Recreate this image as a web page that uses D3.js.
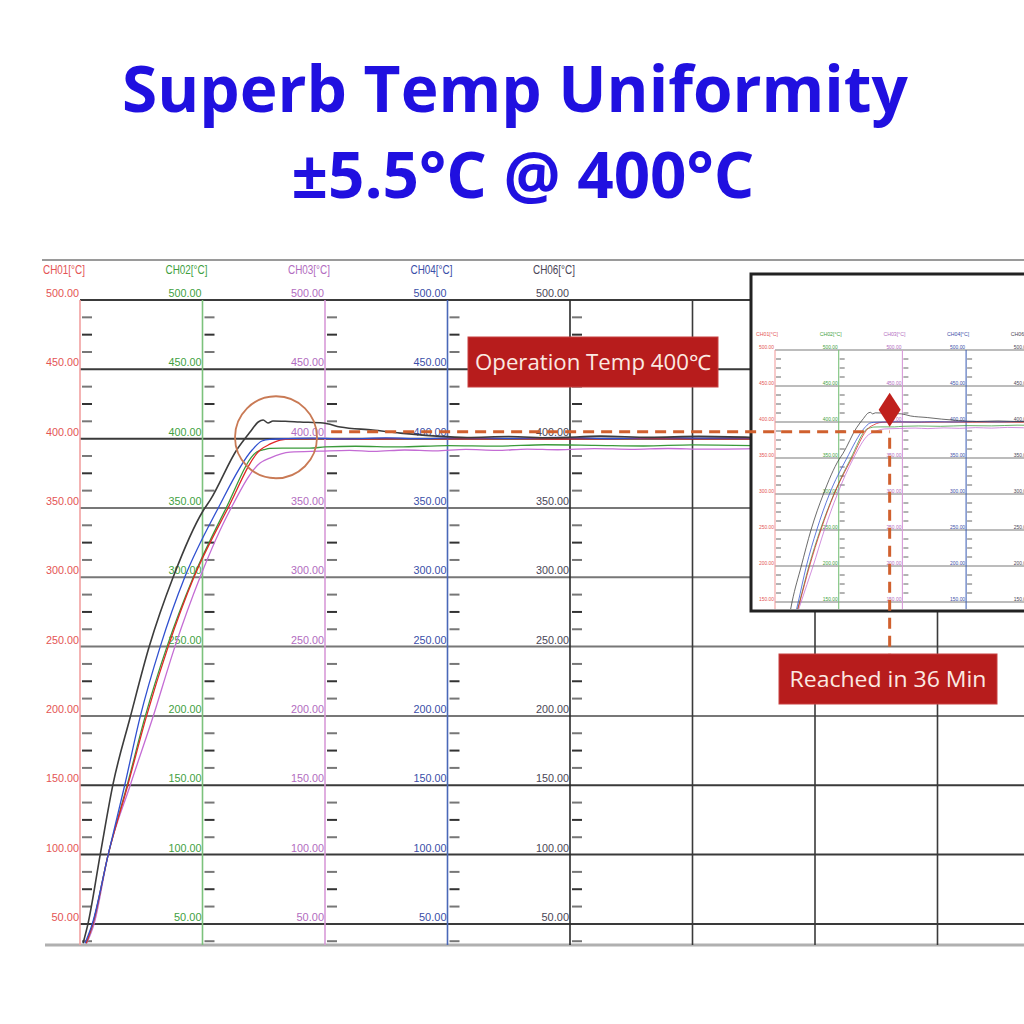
<!DOCTYPE html>
<html><head><meta charset="utf-8">
<script src="https://cdn.jsdelivr.net/npm/d3@7"></script>
<style>body{margin:0;background:#fff}svg{display:block}</style>
</head><body>
<svg id="c" width="1024" height="1024"></svg>
<script>
// ---------- data ----------
const titleLines = ["Superb Temp Uniformity", "±5.5°C @ 400°C"];
const channelNames = ["CH01", "CH02", "CH03", "CH04", "CH06"];
const channelAxisMin = [0, 20, 40, 60, 80];      // time (min) where each channel scale sits
const extraGridMin = [100, 120, 140];
const majorTemps = [50, 100, 150, 200, 250, 300, 350, 400, 450, 500];
const insetTemps = [150, 200, 250, 300, 350, 400, 450, 500];

const ch01Time = [1.0, 2.1, 4.6, 7.8, 10.8, 14.4, 18.6, 24.0, 29.4, 31.0, 32.7, 35, 40, 46, 54, 62, 70, 78, 86, 94, 102, 110];
const ch01Temp = [36, 50, 100, 150, 199, 250, 300, 348.5, 391.8, 396, 399, 399.8, 400, 399.7, 400, 399.8, 400, 399.7, 399.9, 400, 399.8, 399.9];
const ch02Time = [1.0, 2.1, 4.6, 7.7, 10.6, 14.2, 18.5, 23.7, 28.9, 30.0, 31.0, 33, 37.5, 40, 45, 52, 60, 68, 76, 84, 92, 100, 110];
const ch02Temp = [36, 50, 100, 150, 199, 250, 300, 348.5, 390.5, 392, 393, 393.2, 393.2, 394, 394.5, 394, 395, 394.6, 395.6, 395.2, 394.7, 395.5, 395];
const ch03Time = [1.1, 2.3, 4.6, 8.2, 11.9, 15.5, 19.6, 24.5, 29.4, 31.0, 34.3, 39.2, 44, 48, 53, 58, 63, 68, 73, 78, 84, 90, 96, 102, 110];
const ch03Temp = [36, 50, 100, 150, 199, 250, 300, 348.5, 382.4, 386, 390.3, 391, 391.6, 390.8, 391.8, 391.2, 392.2, 391.5, 392.5, 392, 392.8, 392.3, 392.9, 392.4, 392.8];
const ch04Time = [0.8, 2.0, 4.6, 7.3, 9.8, 13.1, 17.1, 22.4, 28.1, 29.7, 31.0, 34, 38, 44, 50, 56, 62, 70, 78, 86, 94, 102, 110];
const ch04Temp = [36, 50, 100, 150, 199, 250, 300, 348.5, 391.8, 398.3, 399.5, 400, 400.3, 399.8, 400.5, 400, 400.8, 400.2, 400.9, 400.1, 400.7, 400.3, 400.6];
const ch06Time = [0.5, 1.3, 3.3, 5.4, 8.2, 11.3, 15.2, 20.1, 21.3, 25.6, 27.8, 29.1, 29.9, 30.7, 31.5, 33.5, 35.9, 39.7, 42.5, 47.8, 52.3, 57.6, 63.2, 70, 77, 85, 93, 101, 110];
const ch06Temp = [36, 50, 100, 151, 199, 250, 300, 348, 356, 392, 405, 412, 413.4, 411.3, 412.7, 412.5, 412, 411.3, 408.4, 406.2, 404, 402, 400.8, 401.5, 400.6, 401.8, 400.9, 401.6, 400.8];

const operationTemp = 405;   // dashed reference line as drawn
const reachedMin = 36;
const circleCenter = [32, 401];
const opLabel = "Operation Temp 400℃";
const reachLabel = "Reached in 36 Min";

// ---------- styles ----------
const axisLineColors = ["#f2a0a0", "#7cc27c", "#d89ad8", "#4a68b8", "#2a2a2a"];
const labelColors = ["#e45454", "#3f9f3f", "#b26cc0", "#3a4ea8", "#4a4656"];
const seriesColors = ["#e02828", "#3a9a3a", "#c46cd4", "#3050d0", "#3c3c3c"];
const series = [
  {t: ch03Time, v: ch03Temp, c: 2},
  {t: ch02Time, v: ch02Temp, c: 1},
  {t: ch01Time, v: ch01Temp, c: 0},
  {t: ch04Time, v: ch04Temp, c: 3},
  {t: ch06Time, v: ch06Temp, c: 4}
];

const svg = d3.select("#c");
const blue = "#2010e0";

// ---------- title ----------
const titleSpec = [{y: 112, w: 786, cx: 515}, {y: 198, w: 463, cx: 523}];
titleLines.forEach((s, i) => {
  const t = svg.append("text").text(s)
    .attr("x", titleSpec[i].cx).attr("y", titleSpec[i].y)
    .attr("text-anchor", "middle")
    .attr("font-family", "Open Sans, Noto Sans, sans-serif")
    .attr("font-weight", 700).attr("font-size", 60).attr("fill", blue);
  const len = t.node().getComputedTextLength();
  t.attr("font-size", 60 * titleSpec[i].w / len);
});

// ---------- main chart ----------
const x = d3.scaleLinear().domain([0, 140]).range([80, 937.5]);
const y = d3.scaleLinear().domain([0, 500]).range([993.2, 300]);
const yBottom = 945;
const opBox = {x: 468, y: 337, w: 250, h: 50};

const main = svg.append("g");
main.append("line").attr("x1", 42).attr("x2", 1024).attr("y1", 260).attr("y2", 260)
  .attr("stroke", "#9a9a9a").attr("stroke-width", 2);
main.append("line").attr("x1", 45).attr("x2", 1024).attr("y1", yBottom).attr("y2", yBottom)
  .attr("stroke", "#b0b0b0").attr("stroke-width", 3);

main.selectAll(".hg").data(majorTemps).join("line")
  .attr("x1", x(0)).attr("x2", 1024)
  .attr("y1", d => y(d)).attr("y2", d => y(d))
  .attr("stroke", d => d >= 200 && d <= 350 ? "#777" : "#3a3a3a").attr("stroke-width", 2);

main.selectAll(".vg").data(extraGridMin).join("line")
  .attr("x1", d => x(d)).attr("x2", d => x(d)).attr("y1", y(500)).attr("y2", yBottom)
  .attr("stroke", "#3a3a3a").attr("stroke-width", 1.6);

const minor = d3.range(37.5, 500, 12.5).filter(v => v % 50 !== 0);
channelAxisMin.forEach((m, i) => {
  const ax = x(m);
  const g = main.append("g");
  g.append("line").attr("x1", ax).attr("x2", ax).attr("y1", y(500)).attr("y2", yBottom)
    .attr("stroke", axisLineColors[i]).attr("stroke-width", 1.6);
  g.selectAll(".tk").data(minor).join("line")
    .attr("x1", ax + 2).attr("x2", ax + 12)
    .attr("y1", d => y(d)).attr("y2", d => y(d))
    .attr("stroke", d => d % 25 === 0 ? "#333" : "#777").attr("stroke-width", 2);
  // labels hidden under the annotation box are not shown in the reference
  const visible = majorTemps.filter(d => {
    const ly = y(d) - 3;
    return !(ax > opBox.x && ax - 34 < opBox.x + opBox.w && ly > opBox.y && ly - 10 < opBox.y + opBox.h);
  });
  g.selectAll(".lb").data(visible).join("text")
    .text(d => d.toFixed(2))
    .attr("x", ax - 1).attr("y", d => y(d) - 3)
    .attr("text-anchor", "end")
    .attr("font-family", "Liberation Sans Narrow, Liberation Sans, sans-serif")
    .attr("font-size", 11).attr("fill", labelColors[i])
    .attr("textLength", d => d.toFixed(2).length * 5.5).attr("lengthAdjust", "spacingAndGlyphs");
  g.append("text").text(channelNames[i] + "[°C]")
    .attr("x", ax + 5).attr("y", 274).attr("text-anchor", "end")
    .attr("font-family", "Liberation Sans Narrow, Liberation Sans, sans-serif")
    .attr("font-size", 12).attr("fill", labelColors[i])
    .attr("textLength", 42).attr("lengthAdjust", "spacingAndGlyphs");
});

svg.append("clipPath").attr("id", "mclip").append("rect")
  .attr("x", 80).attr("y", 295).attr("width", 680).attr("height", yBottom - 295);
const line = d3.line().x(d => x(d[0])).y(d => y(d[1])).curve(d3.curveMonotoneX);
const sg = main.append("g").attr("clip-path", "url(#mclip)");
series.forEach(s => {
  sg.append("path").datum(s.t.map((t, i) => [t, s.v[i]]))
    .attr("d", line).attr("fill", "none")
    .attr("stroke", seriesColors[s.c]).attr("stroke-width", s.c === 4 ? 1.6 : 1.3);
});

main.append("circle").attr("cx", x(circleCenter[0])).attr("cy", y(circleCenter[1])).attr("r", 41)
  .attr("fill", "none").attr("stroke", "#c97a55").attr("stroke-width", 1.8);

// ---------- inset ----------
const ix = d3.scaleLinear().domain([0, 140]).range([775, 775 + 7 * 63.7]);
const iy = d3.scaleLinear().domain([0, 500]).range([710, 350]);
const inset = svg.append("g");
inset.append("rect").attr("x", 751).attr("y", 274).attr("width", 290).attr("height", 337)
  .attr("fill", "#fff").attr("stroke", "#222").attr("stroke-width", 3);
svg.append("clipPath").attr("id", "iclip").append("rect")
  .attr("x", 753).attr("y", 276).attr("width", 271).attr("height", 333);
const ig = inset.append("g").attr("clip-path", "url(#iclip)");
ig.selectAll(".ihg").data(insetTemps).join("line")
  .attr("x1", ix(0)).attr("x2", 1024).attr("y1", d => iy(d)).attr("y2", d => iy(d))
  .attr("stroke", "#7a7a7a").attr("stroke-width", 1.2);
const iminor = d3.range(137.5, 500, 12.5).filter(v => v % 50 !== 0);
channelAxisMin.forEach((m, i) => {
  const ax = ix(m);
  ig.append("line").attr("x1", ax).attr("x2", ax).attr("y1", iy(500)).attr("y2", 612)
    .attr("stroke", axisLineColors[i]).attr("stroke-width", 1.1);
  ig.selectAll(".itk" + i).data(iminor).join("line")
    .attr("x1", ax + 1).attr("x2", ax + 6).attr("y1", d => iy(d)).attr("y2", d => iy(d))
    .attr("stroke", "#666").attr("stroke-width", 1);
  ig.selectAll(".ilb" + i).data(insetTemps).join("text")
    .text(d => d.toFixed(2))
    .attr("x", ax - 1).attr("y", d => iy(d) - 1.5).attr("text-anchor", "end")
    .attr("font-family", "Liberation Sans, sans-serif").attr("font-size", 5.5)
    .attr("fill", labelColors[i]).attr("textLength", 15).attr("lengthAdjust", "spacingAndGlyphs");
  ig.append("text").text(channelNames[i] + "[°C]")
    .attr("x", ax + 3).attr("y", 336).attr("text-anchor", "end")
    .attr("font-family", "Liberation Sans, sans-serif").attr("font-size", 6)
    .attr("fill", labelColors[i]).attr("textLength", 22).attr("lengthAdjust", "spacingAndGlyphs");
});
const iline = d3.line().x(d => ix(d[0])).y(d => iy(d[1])).curve(d3.curveMonotoneX);
series.forEach(s => {
  ig.append("path").datum(s.t.map((t, i) => [t, s.v[i]]))
    .attr("d", iline).attr("fill", "none")
    .attr("stroke", seriesColors[s.c]).attr("stroke-width", 0.9).attr("opacity", 0.85);
});

// ---------- annotations ----------
const dashColor = "#d0602e";
const markX = ix(reachedMin);
const opY = y(operationTemp);
svg.append("line").attr("x1", x(41)).attr("x2", markX).attr("y1", opY).attr("y2", opY)
  .attr("stroke", dashColor).attr("stroke-width", 3).attr("stroke-dasharray", "11,7");
svg.append("line").attr("x1", markX).attr("x2", markX).attr("y1", opY + 6).attr("y2", 654)
  .attr("stroke", dashColor).attr("stroke-width", 3).attr("stroke-dasharray", "11,7");
svg.append("path")
  .attr("d", `M${markX},${opY - 39} L${markX + 11},${opY - 22} L${markX},${opY - 5} L${markX - 11},${opY - 22} Z`)
  .attr("fill", "#c0201c");

function labelBox(b, text, tl) {
  svg.append("rect").attr("x", b.x).attr("y", b.y).attr("width", b.w).attr("height", b.h)
    .attr("fill", "#b71c1c").attr("stroke", "#c84040").attr("stroke-width", 1);
  svg.append("text").text(text).attr("x", b.x + b.w / 2).attr("y", b.y + b.h / 2 + 7.5)
    .attr("text-anchor", "middle").attr("font-family", "Open Sans, Noto Sans, sans-serif")
    .attr("font-size", 21).attr("fill", "#fbe9e2")
    .attr("textLength", tl).attr("lengthAdjust", "spacingAndGlyphs");
}
labelBox(opBox, opLabel, 236);
labelBox({x: 779, y: 654, w: 218, h: 50}, reachLabel, 197);
</script>
</body></html>
